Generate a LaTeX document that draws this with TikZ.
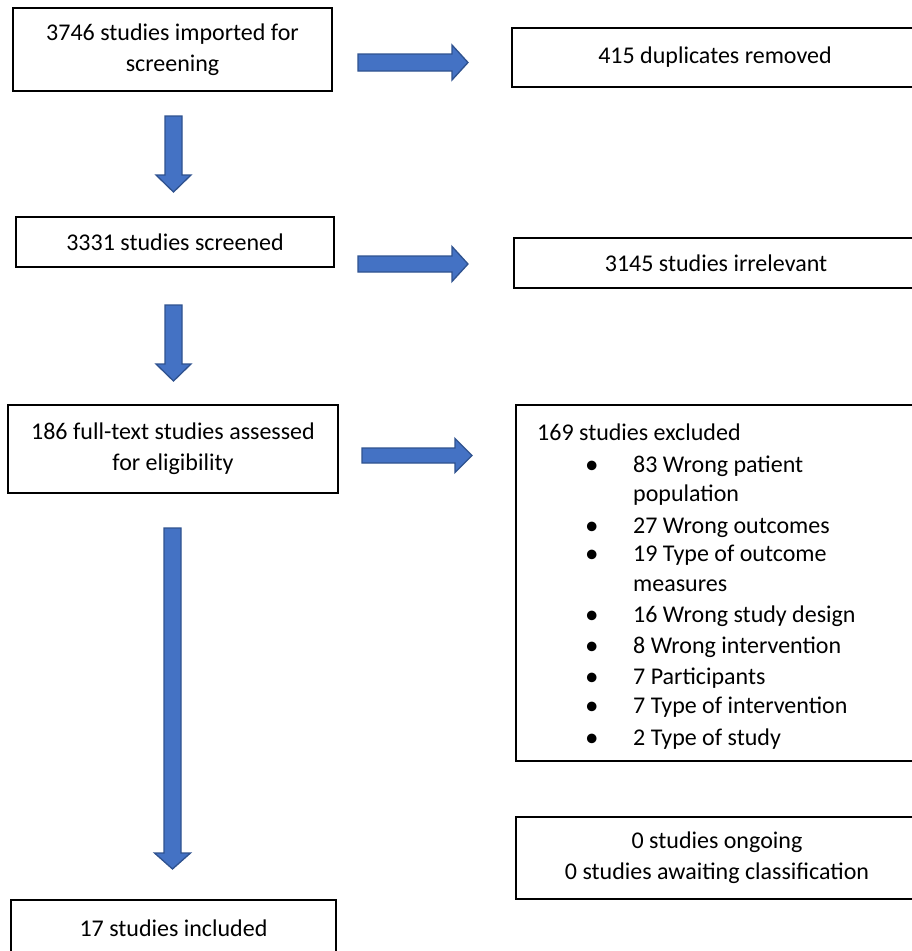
\documentclass[tikz,border=0pt]{standalone}
\usepackage{fontspec}
\setmainfont{Carlito}
\definecolor{arrowfill}{HTML}{4472C4}
\definecolor{arrowedge}{HTML}{2F528F}
\tikzset{
  box/.style={draw=black, line width=1.3pt, align=center, inner sep=0pt,
    font=\fontsize{24}{31}\selectfont},
  barrow/.style={fill=arrowfill, draw=arrowedge, line width=1.3pt, line join=miter},
  listtxt/.style={inner sep=0pt, anchor=base west, font=\fontsize{24}{31}\selectfont},
  bul/.style={inner sep=0pt, anchor=base west, font=\fontsize{27}{31}\selectfont}
}
\newcommand\blockR[6]{% x0, xhead, xtip, yc, shaft half, head half
  \draw[barrow] (#1,{#4-#5}) -- (#2,{#4-#5}) -- (#2,{#4-#6}) -- (#3,#4) -- (#2,{#4+#6}) -- (#2,{#4+#5}) -- (#1,{#4+#5}) -- cycle;}
\newcommand\blockD[6]{% y0, yhead, ytip, xc, shaft half, head half
  \draw[barrow] ({#4-#5},#1) -- ({#4-#5},#2) -- ({#4-#6},#2) -- (#4,#3) -- ({#4+#6},#2) -- ({#4+#5},#2) -- ({#4+#5},#1) -- cycle;}
\begin{document}
\begin{tikzpicture}[x=1pt, y=-1pt]
\useasboundingbox (0,0) rectangle (912,951);
\clip (0,0) rectangle (912,951);
\fill[white] (0,0) rectangle (912,951);

% left column
\node[box, minimum width=319pt, minimum height=83pt] (imp) at (172.5,49.5) {3746 studies imported for\\screening};
\node[box, minimum width=318pt, minimum height=50pt] (scr) at (175,242) {3331 studies screened};
\node[box, minimum width=330pt, minimum height=88pt] (full) at (173,449) {186 full-text studies assessed\\for eligibility};
\node[box, minimum width=325pt, minimum height=56pt] (inc) at (173.5,928) {17 studies included};

% right column
\node[box, minimum width=406pt, minimum height=59pt] (dup) at (715,57.5) {415 duplicates removed};
\node[box, minimum width=404pt, minimum height=50pt] (irr) at (716,263) {3145 studies irrelevant};
\node[box, minimum width=402pt, minimum height=356pt] (exc) at (717,583) {};
\node[box, minimum width=402pt, minimum height=82pt] (ong) at (717,858) {0 studies ongoing\\0 studies awaiting classification};

% exclusion list
\node[listtxt] (h) at (537,440) {169 studies excluded};
\foreach \yy/\tt [count=\i] in {472/83 Wrong patient, 533/27 Wrong outcomes, 561/19 Type of outcome, 622/16 Wrong study design, 653/8 Wrong intervention, 684/7 Participants, 713/7 Type of intervention, 745/2 Type of study}{
  \node[bul] (b\i) at (585,\yy+1) {•};
  \node[listtxt] (t\i) at (633,\yy) {\tt};
}
\node[listtxt] (c1) at (633,501) {population};
\node[listtxt] (c2) at (633,591) {measures};

% block arrows
\blockR{358}{452}{468}{62.5}{8.5}{17.5}
\blockR{358}{452}{468}{264}{8}{17.5}
\blockR{362}{455}{472}{455.5}{7.5}{17}
\blockD{116}{175}{192}{173.5}{8.5}{17.5}
\blockD{305}{364}{381}{173.5}{8.5}{17.5}
\blockD{528}{853}{869}{172.5}{8.5}{18}
\end{tikzpicture}
\end{document}
